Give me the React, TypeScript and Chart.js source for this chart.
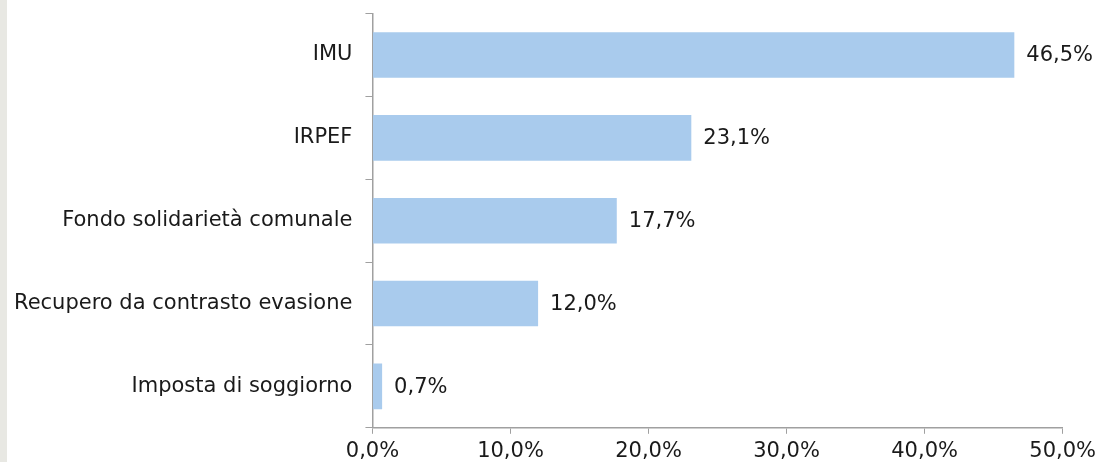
import React, { useEffect, useRef } from "react";
import { Chart, registerables } from "chart.js";

Chart.register(...registerables);

const categories = [
  "IMU",
  "IRPEF",
  "Fondo solidarietà comunale",
  "Recupero da contrasto evasione",
  "Imposta di soggiorno",
];
const values = [46.5, 23.1, 17.7, 12.0, 0.7];
const xTicks = [0, 10, 20, 30, 40, 50];

const fmt = (v: number) => v.toFixed(1).replace(".", ",") + "%";

const FONT = "'DejaVu Sans', Verdana, sans-serif";
const FSIZE = 21;

const labelPlugin = {
  id: "barLabels",
  afterDatasetsDraw(chart: any) {
    const ctx = chart.ctx;
    const meta = chart.getDatasetMeta(0);
    ctx.save();
    ctx.font = `${FSIZE}px ${FONT}`;
    ctx.fillStyle = "#1a1a1a";
    ctx.textAlign = "left";
    ctx.textBaseline = "middle";
    meta.data.forEach((bar: any, i: number) => {
      ctx.fillText(fmt(values[i]), bar.x + 12, bar.y + 1);
    });
    ctx.restore();
  },
};

export default function App() {
  const ref = useRef<HTMLCanvasElement>(null);
  useEffect(() => {
    document.body.style.margin = "0";
    const chart = new Chart(ref.current!, {
      type: "bar",
      data: {
        labels: categories,
        datasets: [
          {
            data: values,
            backgroundColor: "#a9cbed",
            barPercentage: 0.55,
            categoryPercentage: 1,
          },
        ],
      },
      options: {
        indexAxis: "y",
        animation: false,
        responsive: false,
        maintainAspectRatio: false,
        layout: { padding: { top: 1, right: 0, left: 0, bottom: -7 } },
        plugins: { legend: { display: false }, tooltip: { enabled: false } },
        scales: {
          x: {
            min: 0,
            max: 50,
            afterBuildTicks: (axis: any) => {
              axis.ticks = xTicks.map((v) => ({ value: v }));
            },
            grid: {
              drawOnChartArea: false,
              drawTicks: true,
              tickLength: 6,
              color: "#a0a0a0",
            },
            border: { display: true, color: "#a0a0a0", width: 1.5 },
            ticks: {
              color: "#1a1a1a",
              font: { family: FONT, size: FSIZE },
              padding: 5,
              maxRotation: 0,
              callback: (v: any) => fmt(Number(v)),
            },
          },
          y: {
            grid: {
              offset: true,
              drawOnChartArea: false,
              drawTicks: true,
              tickLength: 7,
              color: "#a0a0a0",
            },
            border: { display: true, color: "#a0a0a0", width: 1.5 },
            ticks: {
              color: "#1a1a1a",
              font: { family: FONT, size: FSIZE },
              padding: 13,
            },
          },
        },
      },
      plugins: [labelPlugin],
    });
    return () => chart.destroy();
  }, []);
  return (
    <div
      style={{
        position: "relative",
        width: 1097,
        height: 462,
        background: "#fff",
        overflow: "hidden",
      }}
    >
      <canvas
        ref={ref}
        width={1100}
        height={474}
        style={{ display: "block", position: "absolute", left: 1, top: -12 }}
      />
      <div
        style={{
          position: "absolute",
          left: 0,
          top: 0,
          width: 7,
          height: 462,
          background: "#e8e8e3",
        }}
      />
    </div>
  );
}
